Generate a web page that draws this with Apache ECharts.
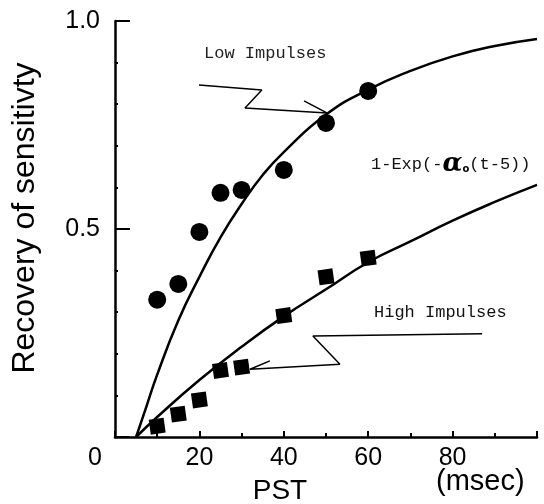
<!DOCTYPE html>
<html>
<head>
<meta charset="utf-8">
<script src="https://cdn.jsdelivr.net/npm/echarts@6/dist/echarts.min.js"></script>
<style>html,body{margin:0;padding:0;background:#fff;}#c{width:544px;height:504px;}</style>
</head>
<body>
<div id="c"></div>
<script>
// Measured points (PST in msec, recovery of sensitivity)
var lowPoints = [[10,0.33],[15,0.368],[20,0.493],[25,0.587],[30,0.594],[40,0.642],[50,0.755],[60,0.832]];
var highPoints = [[10,0.026],[15,0.055],[20,0.089],[25,0.160],[30,0.168],[40,0.292],[50,0.385],[60,0.430]];
// Fitted curves
var lowCurve = [[5,0],[7.5,0.075],[10,0.15],[15,0.28],[20,0.385],[25,0.48],[30,0.56],[35,0.63],[40,0.685],[50,0.775],[60,0.835],[70,0.88],[80,0.915],[90,0.94],[100,0.957]];
var highCurve = [[5,0],[10,0.048],[20,0.137],[30,0.217],[40,0.29],[50,0.355],[60,0.42],[70,0.47],[80,0.52],[90,0.565],[100,0.606]];
// Callout arrows (data coordinates)
var lowArrow = [[19.9,0.846],[34.8,0.834],[30.8,0.791],[50.2,0.779],[44.8,0.808]];
var highArrow = [[87.0,0.248],[46.9,0.243],[53.3,0.175],[32.0,0.163],[36.7,0.183]];
var xTicks = [0,20,40,60,80,100];
var yTickLabels = {0.5:'0.5', 1:'1.0'};

var chart = echarts.init(document.getElementById('c'));
var labelFont = 'Liberation Sans';
chart.setOption({
  animation: false,
  backgroundColor: '#fff',
  grid: {left: 115, right: 7, top: 21, bottom: 67, containLabel: false, outerBoundsMode: 'none'},
  xAxis: {
    type: 'value', min: 0, max: 100, interval: 20,
    name: 'PST', nameLocation: 'middle', nameGap: 40,
    nameTextStyle: {fontFamily: labelFont, fontSize: 28, color: '#000', padding: [0, 92, 0, 0]},
    axisLine: {show: true, onZero: false, lineStyle: {color: '#000', width: 2.5}},
    axisTick: {show: true, inside: true, length: 6, lineStyle: {color: '#000', width: 2}},
    minorTick: {show: true, splitNumber: 2, length: 4, lineStyle: {color: '#000', width: 2}},
    splitLine: {show: false},
    axisLabel: {
      margin: 9, fontFamily: labelFont, fontSize: 25, color: '#000',
      formatter: function (v) { if (v === 0) return '{z|0}'; if (v === 100) return ''; return String(v); },
      rich: {z: {fontFamily: labelFont, fontSize: 25, color: '#000', padding: [0, 40, 0, 0]}}
    }
  },
  yAxis: {
    type: 'value', min: 0, max: 1, interval: 0.5,
    name: 'Recovery of sensitivty', nameLocation: 'middle', nameGap: 74, nameRotate: 90,
    nameTextStyle: {fontFamily: labelFont, fontSize: 32, color: '#000', padding: [0, 0, 0, 22]},
    axisLine: {show: true, lineStyle: {color: '#000', width: 2.5}},
    axisTick: {show: true, inside: true, length: 15, lineStyle: {color: '#000', width: 2}},
    minorTick: {show: true, splitNumber: 5, length: 3, lineStyle: {color: '#000', width: 2}},
    splitLine: {show: false},
    axisLabel: {
      margin: 15, fontFamily: labelFont, fontSize: 25, color: '#000',
      formatter: function (v) { return yTickLabels[v] || ''; }
    }
  },
  graphic: [
    {type: 'text', left: 204, top: 45, style: {text: 'Low Impulses', font: '17px "Liberation Mono"', fill: '#222'}},
    {type: 'text', left: 371, top: 151, style: {text: '1-Exp(-{a|α}{s|o}(t-5))', font: '17px "Liberation Mono"', fill: '#111',
      rich: {a: {fontFamily: 'DejaVu Serif', fontStyle: 'italic', fontWeight: 'bold', fontSize: 26, fill: '#000'},
             s: {fontFamily: 'DejaVu Sans', fontWeight: 'bold', fontSize: 10, fill: '#000', padding: [10, 0, 0, 0]}}}},
    {type: 'text', left: 374, top: 304, style: {text: 'High Impulses', font: '17px "Liberation Mono"', fill: '#111'}},
    {type: 'text', left: 436, top: 467, style: {text: '(msec)', font: '29px "Liberation Sans"', fill: '#000'}}
  ],
  series: [
    {type: 'line', data: lowCurve, smooth: true, symbol: 'none', lineStyle: {color: '#000', width: 2.5}, z: 2},
    {type: 'line', data: highCurve, smooth: true, symbol: 'none', lineStyle: {color: '#000', width: 2.5}, z: 2},
    {type: 'line', data: lowArrow, symbol: 'none', lineStyle: {color: '#000', width: 1.5}, z: 3},
    {type: 'line', data: highArrow, symbol: 'none', lineStyle: {color: '#000', width: 1.5}, z: 3},
    {type: 'scatter', data: lowPoints, symbol: 'circle', symbolSize: 18, itemStyle: {color: '#000', opacity: 1}, z: 4},
    {type: 'scatter', data: highPoints, symbol: 'rect', symbolSize: 15, symbolRotate: 8, itemStyle: {color: '#000', opacity: 1}, z: 4}
  ]
});
</script>
</body>
</html>
